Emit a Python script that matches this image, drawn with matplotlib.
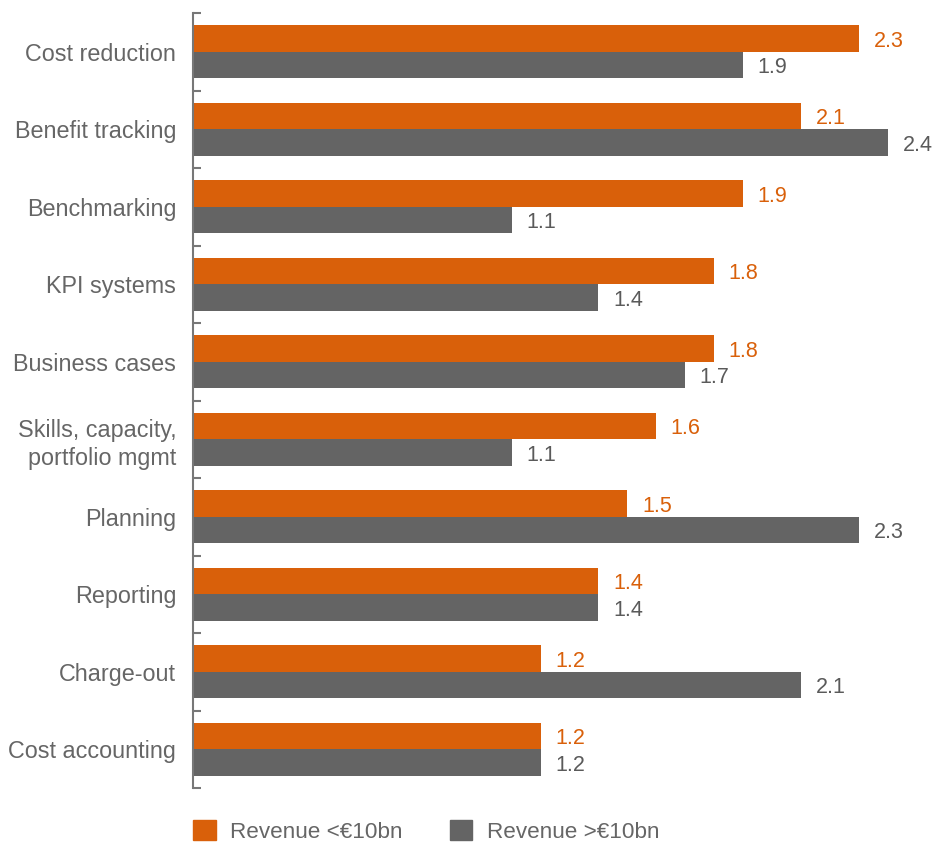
import matplotlib
matplotlib.use("Agg")
import matplotlib.pyplot as plt
from matplotlib.patches import Patch
import numpy as np

plt.rcParams['font.family'] = ['Liberation Sans', 'DejaVu Sans']

categories = ["Cost reduction", "Benefit tracking", "Benchmarking", "KPI systems",
              "Business cases", "Skills, capacity,\nportfolio mgmt", "Planning",
              "Reporting", "Charge-out", "Cost accounting"]
small_rev = [2.3, 2.1, 1.9, 1.8, 1.8, 1.6, 1.5, 1.4, 1.2, 1.2]
large_rev = [1.9, 2.4, 1.1, 1.4, 1.7, 1.1, 2.3, 1.4, 2.1, 1.2]
series_names = ["Revenue <€10bn", "Revenue >€10bn"]

ORANGE = "#D9600A"
GREY = "#646464"
TEXT = "#666666"

W, H = 933, 843
fig = plt.figure(figsize=(W / 100, H / 100), dpi=100)
ax_left, ax_right = 193 / W, 930 / W
ax_top, ax_bot = 1 - 13 / H, 1 - 788 / H
ax = fig.add_axes([ax_left, ax_bot, ax_right - ax_left, ax_top - ax_bot])

n = len(categories)
y = np.arange(n)
bh = 0.342
ax.barh(y - bh / 2, small_rev, height=bh, color=ORANGE)
ax.barh(y + bh / 2, large_rev, height=bh, color=GREY)

dy = 0.035
for yi, v in zip(y, small_rev):
    ax.text(v + 0.05, yi - bh / 2 + dy, f"{v:.1f}", color=ORANGE, fontsize=15.5,
            va="center", ha="left")
for yi, v in zip(y, large_rev):
    ax.text(v + 0.05, yi + bh / 2 + dy, f"{v:.1f}", color="#5a5a5a", fontsize=15.5,
            va="center", ha="left")

ax.set_xlim(0, (930 - 193) / 289.6)
ax.set_ylim(n - 0.5, -0.5)

for s in ["top", "right", "bottom"]:
    ax.spines[s].set_visible(False)
ax.spines["left"].set_color("#777777")
ax.spines["left"].set_linewidth(1.5)
ax.set_xticks([])

# group separators as inward ticks, labels on the group centres
ax.set_yticks(np.arange(n + 1) - 0.5)
ax.set_yticklabels([])
ax.tick_params(axis="y", which="major", direction="in", length=6, width=1.5,
               color="#777777")
ax.set_yticks(y, minor=True)
ax.set_yticklabels(categories, minor=True, fontsize=16.8, color=TEXT,
                   ha="right", linespacing=1.3)
ax.tick_params(axis="y", which="minor", length=0, pad=12)

handles = [Patch(color=ORANGE), Patch(color=GREY)]
fig.legend(handles, series_names, loc="upper left",
           bbox_to_anchor=(193 / W, 1 - 820 / H), ncol=2, frameon=False,
           fontsize=16.2, labelcolor=TEXT, handlelength=1.0, handleheight=1.0,
           handletextpad=0.65, columnspacing=2.1, borderaxespad=0, borderpad=0)

fig.savefig("out.png", dpi=100)
